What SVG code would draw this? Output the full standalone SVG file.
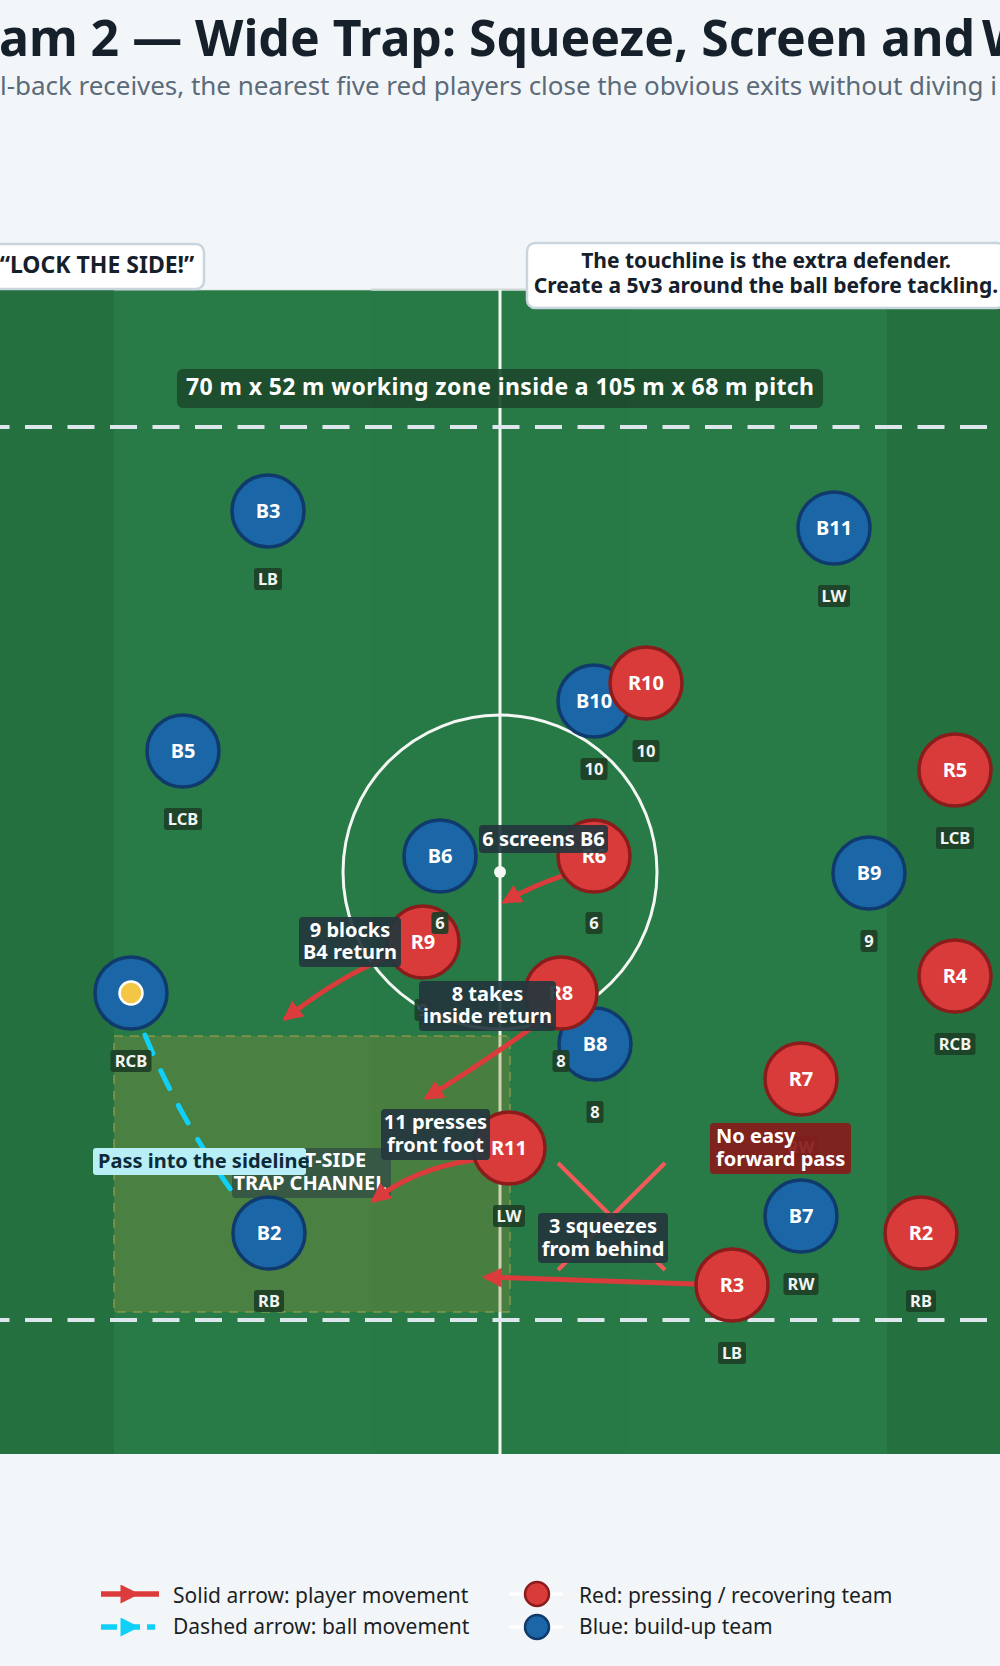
<svg xmlns="http://www.w3.org/2000/svg" width="1000" height="1666" viewBox="0 0 1000 1666">
<defs>
<style>
text { font-family: 'Noto Sans','Open Sans','DejaVu Sans',sans-serif; }
.title { font-size:50px; font-weight:700; fill:#15202b; }
.sub { font-size:26px; fill:#5b6b7a; }
.note rect { fill:#ffffff; stroke:#c8d5df; stroke-width:2.5; }
.note text { font-weight:700; fill:#15202b; text-anchor:middle; }
.pline { stroke:#f4f7f4; stroke-width:3; fill:none; }
.zdash { stroke:#dde6ec; stroke-width:4; stroke-dasharray:27 15.5; }
.blue circle.b { fill:#1a66a6; stroke:#0f3a6b; stroke-width:3.5; }
.red circle.b { fill:#d93b3b; stroke:#8b1c1c; stroke-width:3.5; }
.pn { font-size:20px; font-weight:700; fill:#ffffff; text-anchor:middle; }
.role rect { fill:#1d3f27; fill-opacity:0.92; }
.role text { font-size:16.5px; font-weight:700; fill:#f2f4f2; text-anchor:middle; }
.mv { fill:none; stroke:#dc3b3b; stroke-width:5; marker-end:url(#ah-red); }
.ann rect { fill:#24363e; fill-opacity:0.92; }
.ann text { font-size:20px; font-weight:700; fill:#ffffff; text-anchor:middle; }
.leg { font-size:21px; fill:#1b1f24; }
</style>
<marker id="ah-red" viewBox="0 0 20 20" markerWidth="20" markerHeight="20" refX="17" refY="10" orient="auto" markerUnits="userSpaceOnUse"><path d="M0,0 L20,10 L0,20 z" fill="#dc3b3b"/></marker>
<marker id="ah-red-mid" viewBox="0 0 20 20" markerWidth="20" markerHeight="19" refX="10" refY="10" orient="auto" markerUnits="userSpaceOnUse"><path d="M0,0 L20,10 L0,20 z" fill="#dc3b3b"/></marker>
<marker id="ah-cyan-mid" viewBox="0 0 20 20" markerWidth="20" markerHeight="19" refX="10" refY="10" orient="auto" markerUnits="userSpaceOnUse"><path d="M0,0 L20,10 L0,20 z" fill="#10d0f8"/></marker>
</defs>

<rect x="0" y="0" width="1000" height="1666" fill="#f3f6f9"/>

<g id="heading">
<text class="title" x="-1" y="56" textLength="976">am 2 — Wide Trap: Squeeze, Screen and</text>
<text class="title" x="982" y="56">W</text>
<text class="sub" x="0" y="95" textLength="997">l-back receives, the nearest five red players close the obvious exits without diving i</text>
</g>

<g id="pitch">
<rect x="-150" y="290" width="1300" height="1164" fill="#287b46"/>
<rect x="-150" y="290" width="264" height="1164" fill="#24703f"/>
<rect x="371" y="290" width="258" height="1164" fill="#277945"/>
<rect x="887" y="290" width="263" height="1164" fill="#24703f"/>
<rect x="114" y="289" width="257" height="2" fill="#cfdad4" fill-opacity="0.35"/>
<rect x="371" y="288.5" width="258" height="2.5" fill="#c9d4cf" fill-opacity="0.85"/>
<line class="pline" x1="500" y1="290" x2="500" y2="1454"/>
<circle class="pline" cx="500" cy="872" r="157"/>
<circle cx="500" cy="872" r="6" fill="#f4f7f4"/>
<line class="zdash" x1="-145" y1="427" x2="1145" y2="427"/>
<line class="zdash" x1="-145" y1="1320" x2="1145" y2="1320"/>
</g>

<g id="trap-channel">
<rect x="114" y="1036" width="396" height="276" fill="#898939" fill-opacity="0.35" stroke="#a3a24c" stroke-opacity="0.55" stroke-width="2" stroke-dasharray="9 7"/>
<rect x="232" y="1148" width="159" height="50" rx="4" fill="#2c3f46" fill-opacity="0.6"/>
<text x="310" y="1167" font-size="20" font-weight="700" fill="#ffffff" text-anchor="middle">RIGHT-SIDE</text>
<text x="310" y="1190" font-size="20" font-weight="700" fill="#ffffff" text-anchor="middle">TRAP CHANNEL</text>
</g>

<g id="zone-label">
<rect x="177" y="369" width="646" height="39" rx="6" fill="#1c4a2c" fill-opacity="0.92"/>
<text x="500" y="395" font-size="23" font-weight="700" fill="#ffffff" text-anchor="middle" textLength="628">70 m x 52 m working zone inside a 105 m x 68 m pitch</text>
</g>

<g id="connectors">
<path class="mv" d="M562,876 Q530,887 504,902"/>
<path class="mv" d="M395,955 Q345,972 285,1019"/>
<path class="mv" d="M545,1018 Q485,1062 426,1098"/>
<path class="mv" d="M474,1160 Q415,1168 373,1201"/>
<path class="mv" d="M695,1284 L485,1277"/>
<g id="no-pass-cross" stroke="#f25a5a" stroke-width="4">
<line x1="558" y1="1163" x2="665" y2="1270"/>
<line x1="665" y1="1163" x2="558" y2="1270"/>
</g>
<path id="pass" d="M145,1035 Q180,1120 236,1197" fill="none" stroke="#10d0f8" stroke-width="5" stroke-linecap="round" stroke-dasharray="20 19"/>
</g>

<g id="players">
<g id="B3" class="blue"><circle class="b" cx="268" cy="511" r="36"/><text class="pn" x="268" y="518">B3</text></g>
<g id="B11" class="blue"><circle class="b" cx="834" cy="528" r="36"/><text class="pn" x="834" y="535">B11</text></g>
<g id="B10" class="blue"><circle class="b" cx="594" cy="701" r="36"/><text class="pn" x="594" y="708">B10</text></g>
<g id="B5" class="blue"><circle class="b" cx="183" cy="751" r="36"/><text class="pn" x="183" y="758">B5</text></g>
<g id="B6" class="blue"><circle class="b" cx="440" cy="856" r="36"/><text class="pn" x="440" y="863">B6</text></g>
<g id="B9" class="blue"><circle class="b" cx="869" cy="873" r="36"/><text class="pn" x="869" y="880">B9</text></g>
<g id="B4" class="blue"><circle class="b" cx="131" cy="993" r="36"/><circle cx="131" cy="993" r="11.5" fill="#f4c645" stroke="#ffffff" stroke-width="2.5"/></g>
<g id="B8" class="blue"><circle class="b" cx="595" cy="1044" r="36"/><text class="pn" x="595" y="1051">B8</text></g>
<g id="B2" class="blue"><circle class="b" cx="269" cy="1233" r="36"/><text class="pn" x="269" y="1240">B2</text></g>
<g id="B7" class="blue"><circle class="b" cx="801" cy="1216" r="36"/><text class="pn" x="801" y="1223">B7</text></g>
<g id="R10" class="red"><circle class="b" cx="646" cy="683" r="36"/><text class="pn" x="646" y="690">R10</text></g>
<g id="R5" class="red"><circle class="b" cx="955" cy="770" r="36"/><text class="pn" x="955" y="777">R5</text></g>
<g id="R6" class="red"><circle class="b" cx="594" cy="856" r="36"/><text class="pn" x="594" y="863">R6</text></g>
<g id="R9" class="red"><circle class="b" cx="423" cy="942" r="36"/><text class="pn" x="423" y="949">R9</text></g>
<g id="R4" class="red"><circle class="b" cx="955" cy="976" r="36"/><text class="pn" x="955" y="983">R4</text></g>
<g id="R8" class="red"><circle class="b" cx="561" cy="993" r="36"/><text class="pn" x="561" y="1000">R8</text></g>
<g id="R7" class="red"><circle class="b" cx="801" cy="1079" r="36"/><text class="pn" x="801" y="1086">R7</text></g>
<g id="R11" class="red"><circle class="b" cx="509" cy="1148" r="36"/><text class="pn" x="509" y="1155">R11</text></g>
<g id="R2" class="red"><circle class="b" cx="921" cy="1233" r="36"/><text class="pn" x="921" y="1240">R2</text></g>
<g id="R3" class="red"><circle class="b" cx="732" cy="1285" r="36"/><text class="pn" x="732" y="1292">R3</text></g>
</g>

<g id="role-labels" class="role">
<g id="B3-role"><rect x="254" y="568" width="28" height="22" rx="3"/><text x="268" y="585">LB</text></g>
<g id="B11-role"><rect x="818" y="585" width="32" height="22" rx="3"/><text x="834" y="602">LW</text></g>
<g id="B10-role"><rect x="580.5" y="758" width="27" height="22" rx="3"/><text x="594" y="775">10</text></g>
<g id="B5-role"><rect x="164" y="808" width="38" height="22" rx="3"/><text x="183" y="825">LCB</text></g>
<g id="B9-role"><rect x="860.5" y="930" width="17" height="22" rx="3"/><text x="869" y="947">9</text></g>
<g id="B4-role"><rect x="110.5" y="1050" width="41" height="22" rx="3"/><text x="131" y="1067">RCB</text></g>
<g id="B8-role"><rect x="586.5" y="1101" width="17" height="22" rx="3"/><text x="595" y="1118">8</text></g>
<g id="B2-role"><rect x="254" y="1290" width="30" height="22" rx="3"/><text x="269" y="1307">RB</text></g>
<g id="B7-role"><rect x="783.5" y="1273" width="35" height="22" rx="3"/><text x="801" y="1290">RW</text></g>
<g id="R10-role"><rect x="632.5" y="740" width="27" height="22" rx="3"/><text x="646" y="757">10</text></g>
<g id="R5-role"><rect x="936" y="827" width="38" height="22" rx="3"/><text x="955" y="844">LCB</text></g>
<g id="R6-role"><rect x="585.5" y="912" width="17" height="22" rx="3"/><text x="594" y="929">6</text></g>
<g id="R9-role"><rect x="414.5" y="999" width="17" height="22" rx="3"/><text x="423" y="1016">9</text></g>
<g id="R4-role"><rect x="934.5" y="1033" width="41" height="22" rx="3"/><text x="955" y="1050">RCB</text></g>
<g id="R8-role"><rect x="552.5" y="1050" width="17" height="22" rx="3"/><text x="561" y="1067">8</text></g>
<g id="R7-role"><rect x="783.5" y="1136" width="35" height="22" rx="3"/><text x="801" y="1153">RW</text></g>
<g id="R11-role"><rect x="493" y="1205" width="32" height="22" rx="3"/><text x="509" y="1222">LW</text></g>
<g id="R2-role"><rect x="906" y="1290" width="30" height="22" rx="3"/><text x="921" y="1307">RB</text></g>
<g id="R3-role"><rect x="718" y="1342" width="28" height="22" rx="3"/><text x="732" y="1359">LB</text></g>
<g id="B6-role"><rect x="431.5" y="912" width="17" height="22" rx="3"/><text x="440" y="929">6</text></g>
</g>

<g id="annotations" class="ann">
<g id="ann-6"><rect x="479" y="825" width="129" height="28" rx="4"/><text x="543.5" y="846">6 screens B6</text></g>
<g id="ann-9"><rect x="299" y="917" width="102" height="50" rx="4"/><text x="350" y="937">9 blocks</text><text x="350" y="959">B4 return</text></g>
<g id="ann-8"><rect x="419" y="981" width="137" height="50" rx="4"/><text x="487.5" y="1001">8 takes</text><text x="487.5" y="1023">inside return</text></g>
<g id="ann-11"><rect x="381" y="1109" width="109" height="51" rx="4"/><text x="435.5" y="1129">11 presses</text><text x="435.5" y="1152">front foot</text></g>
<g id="ann-3"><rect x="538" y="1213" width="130" height="50" rx="4"/><text x="603" y="1233">3 squeezes</text><text x="603" y="1256">from behind</text></g>
<g id="ann-nopass"><rect x="710" y="1123" width="141" height="51" rx="4" style="fill:#861c1c;fill-opacity:0.93"/><text x="716" y="1143" style="text-anchor:start">No easy</text><text x="716" y="1166" style="text-anchor:start">forward pass</text></g>
<g id="ann-pass"><rect x="93" y="1148" width="213" height="27" rx="3" style="fill:#b8eef5;fill-opacity:1"/><text x="98" y="1168" style="text-anchor:start;fill:#0d2a3a">Pass into the sideline</text></g>
</g>

<g id="notes" class="note">
<g id="note-lock"><rect x="-12" y="244" width="216" height="45" rx="8"/><text x="97" y="273" font-size="23">“LOCK THE SIDE!”</text></g>
<g id="note-touchline"><rect x="527" y="243" width="478" height="65" rx="8"/><text x="766" y="268" font-size="21">The touchline is the extra defender.</text><text x="766" y="293" font-size="21">Create a 5v3 around the ball before tackling.</text></g>
</g>

<g id="legend">
<path d="M101,1594 L130,1594 L159,1594" fill="none" stroke="#dc3b3b" stroke-width="5.5" marker-mid="url(#ah-red-mid)"/>
<text class="leg" x="173" y="1603">Solid arrow: player movement</text>
<path d="M101,1627 L130,1627 L155,1627" fill="none" stroke="#10d0f8" stroke-width="5.5" stroke-dasharray="16 7" marker-mid="url(#ah-cyan-mid)"/>
<text class="leg" x="173" y="1634">Dashed arrow: ball movement</text>
<line x1="509" y1="1594" x2="563" y2="1594" stroke="#ffffff" stroke-width="3"/>
<circle cx="537" cy="1594" r="12" fill="#d93b3b" stroke="#8b1c1c" stroke-width="2.5"/>
<text class="leg" x="579" y="1603">Red: pressing / recovering team</text>
<line x1="509" y1="1627" x2="563" y2="1627" stroke="#ffffff" stroke-width="3"/>
<circle cx="537" cy="1627" r="12" fill="#1a66a6" stroke="#0f3a6b" stroke-width="2.5"/>
<text class="leg" x="579" y="1634">Blue: build-up team</text>
</g>
</svg>
